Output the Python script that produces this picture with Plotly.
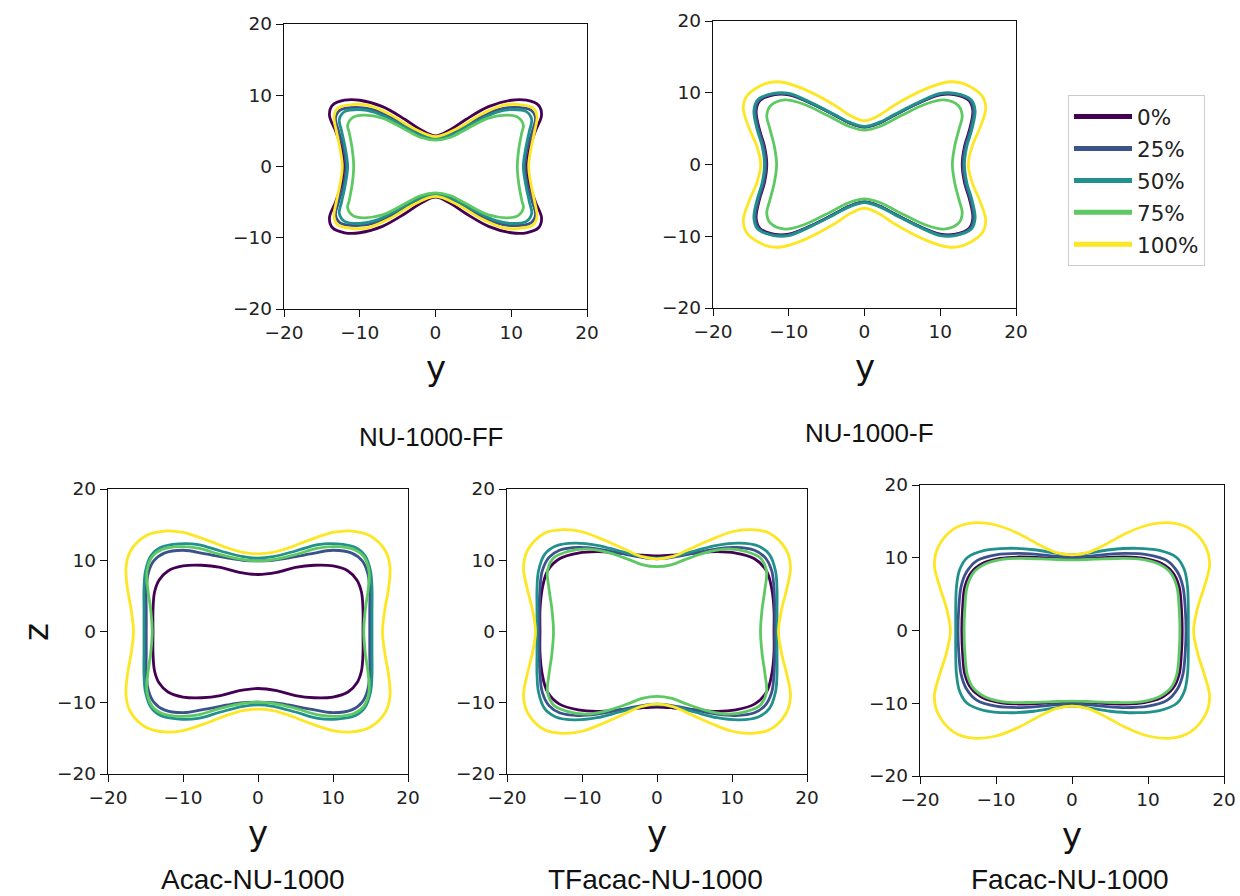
import plotly.graph_objects as go

W, H = 1240, 896

LOADINGS = ["0%", "25%", "50%", "75%", "100%"]
COLORS = ["#440154", "#3b528b", "#21918c", "#5ec962", "#fde725"]
PANEL_NAMES = ["NU-1000-FF", "NU-1000-F", "Acac-NU-1000", "TFacac-NU-1000", "Facac-NU-1000"]
TICKS = [-20, -10, 0, 10, 20]
AXIS_RANGE = [-20, 20]

# One quadrant of each outline as (y, z) pairs, running from the y-axis
# crossing (z = 0) round to the z-axis crossing (y = 0).
FF_0 = [(12.1, 0), (12.4, 2.5), (13.2, 5.0), (14.0, 7.2), (13.6, 8.6), (12.0, 9.3), (10.0, 9.3), (7.0, 8.4), (4.0, 6.6), (2.0, 5.2), (0, 4.3)]
FF_25 = [(11.8, 0), (12.1, 2.5), (12.8, 5.0), (13.2, 6.8), (12.6, 7.9), (10.5, 8.3), (8.0, 7.9), (5.0, 6.4), (2.0, 4.6), (0, 4.0)]
FF_50 = [(11.6, 0), (11.9, 2.5), (12.4, 5.0), (12.7, 6.6), (12.0, 7.7), (10.0, 8.0), (8.0, 7.6), (5.0, 6.1), (2.0, 4.4), (0, 3.9)]
FF_75 = [(10.8, 0), (11.0, 2.5), (11.4, 4.8), (11.6, 5.8), (10.9, 6.9), (9.5, 7.2), (7.0, 6.8), (4.0, 5.2), (2.0, 4.1), (0, 3.7)]
FF_100 = [(12.3, 0), (12.6, 2.5), (13.1, 5.0), (13.4, 7.0), (12.9, 8.2), (11.0, 8.7), (9.0, 8.6), (6.0, 7.3), (3.0, 5.4), (0, 4.2)]

F_0 = [(12.9, 0), (13.2, 2.5), (13.9, 5.0), (14.3, 7.5), (13.8, 8.9), (12.0, 9.7), (10.0, 9.7), (7.0, 8.5), (4.0, 6.9), (2.0, 5.8), (0, 5.2)]
F_25 = [(13.0, 0), (13.3, 2.5), (14.0, 5.0), (14.4, 7.5), (13.9, 9.0), (12.0, 9.8), (10.0, 9.8), (7.0, 8.5), (4.0, 6.9), (2.0, 5.8), (0, 5.2)]
F_50 = [(13.2, 0), (13.5, 2.5), (14.2, 5.0), (14.6, 7.5), (14.1, 9.0), (12.0, 9.9), (10.0, 9.9), (7.0, 8.6), (4.0, 7.0), (2.0, 5.9), (0, 5.3)]
F_75 = [(11.6, 0), (11.9, 2.5), (12.5, 5.0), (12.9, 6.8), (12.4, 8.2), (10.5, 9.0), (8.0, 8.4), (5.0, 6.9), (2.0, 5.3), (0, 4.8)]
F_100 = [(13.7, 0), (14.2, 2.5), (15.2, 5.0), (16.0, 7.8), (15.5, 9.6), (13.0, 11.3), (11.0, 11.5), (8.0, 10.5), (4.0, 8.3), (2.0, 6.9), (0, 6.1)]

ACAC_0 = [(14.0, 0), (14.0, 3.0), (13.8, 5.5), (13.2, 7.2), (12.0, 8.5), (10.0, 9.2), (7.5, 9.3), (5.0, 9.0), (2.5, 8.3), (0, 8.0)]
ACAC_25 = [(14.9, 0), (14.9, 3.0), (14.9, 6.0), (14.6, 8.3), (13.9, 9.9), (12.5, 11.0), (10.0, 11.4), (7.0, 10.9), (4.0, 10.3), (2.0, 10.0), (0, 9.9)]
ACAC_50 = [(15.2, 0), (15.2, 3.0), (15.2, 6.0), (15.0, 8.5), (14.3, 10.6), (13.0, 11.8), (10.5, 12.3), (8.0, 12.2), (5.0, 11.3), (2.0, 10.5), (0, 10.3)]
ACAC_75 = [(14.1, 0), (14.3, 3.0), (14.7, 6.0), (14.8, 8.5), (14.1, 10.5), (12.8, 11.5), (10.5, 11.9), (8.0, 11.7), (5.0, 10.8), (2.0, 10.1), (0, 9.9)]
ACAC_100 = [(16.6, 0), (16.9, 3.0), (17.4, 6.0), (17.6, 9.0), (17.0, 11.3), (15.0, 13.4), (12.5, 14.1), (10.0, 13.9), (7.0, 12.9), (4.0, 11.7), (2.0, 11.1), (0, 10.9)]

TFACAC_0 = [(15.6, 0), (15.6, 3.0), (15.3, 6.0), (14.6, 8.5), (13.0, 10.2), (10.5, 11.0), (8.0, 11.2), (5.0, 11.0), (2.0, 10.7), (0, 10.6)]
TFACAC_25 = [(15.7, 0), (15.7, 3.0), (15.6, 6.0), (15.3, 8.5), (14.4, 10.4), (13.0, 11.4), (10.5, 11.8), (8.0, 11.6), (5.0, 11.0), (2.0, 10.4), (0, 10.2)]
TFACAC_50 = [(16.0, 0), (16.0, 3.0), (16.0, 6.0), (15.8, 8.5), (15.0, 10.8), (13.5, 12.0), (11.0, 12.4), (8.0, 12.1), (5.0, 11.3), (2.0, 10.5), (0, 10.3)]
TFACAC_75 = [(13.8, 0), (14.0, 3.0), (14.4, 6.0), (14.6, 8.5), (13.8, 10.3), (12.0, 11.2), (9.5, 11.6), (7.0, 11.2), (4.0, 10.2), (2.0, 9.4), (0, 9.1)]
TFACAC_100 = [(16.2, 0), (16.6, 3.0), (17.3, 6.0), (17.8, 9.0), (17.2, 11.5), (15.0, 13.8), (12.5, 14.3), (10.0, 14.0), (7.0, 12.8), (4.0, 11.4), (2.0, 10.5), (0, 10.2)]

FACAC_0 = [(14.5, 0), (14.4, 3.0), (14.1, 6.0), (13.3, 7.9), (11.8, 9.2), (9.5, 9.9), (7.0, 10.1), (4.0, 10.0), (2.0, 9.9), (0, 9.9)]
FACAC_25 = [(15.0, 0), (14.9, 3.0), (14.6, 6.0), (13.9, 8.0), (12.5, 9.6), (10.0, 10.4), (7.0, 10.6), (4.0, 10.4), (2.0, 10.2), (0, 10.1)]
FACAC_50 = [(15.3, 0), (15.3, 3.0), (15.2, 6.0), (14.8, 8.3), (13.8, 10.0), (11.5, 11.0), (8.5, 11.3), (5.0, 11.1), (2.0, 10.6), (0, 10.4)]
FACAC_75 = [(14.2, 0), (14.1, 3.0), (13.8, 6.0), (13.0, 7.9), (11.5, 9.1), (9.0, 9.8), (6.0, 9.9), (3.0, 9.8), (0, 9.7)]
FACAC_100 = [(16.0, 0), (16.5, 3.0), (17.4, 6.0), (18.1, 9.0), (17.6, 11.5), (15.5, 14.0), (13.0, 14.8), (10.0, 14.5), (7.0, 13.3), (4.0, 11.6), (2.0, 10.7), (0, 10.4)]

PANEL_CURVES = [
    [FF_0, FF_25, FF_50, FF_75, FF_100],
    [F_0, F_25, F_50, F_75, F_100],
    [ACAC_0, ACAC_25, ACAC_50, ACAC_75, ACAC_100],
    [TFACAC_0, TFACAC_25, TFACAC_50, TFACAC_75, TFACAC_100],
    [FACAC_0, FACAC_25, FACAC_50, FACAC_75, FACAC_100],
]

# plot-area boxes in pixels: left, right, top, bottom
PANEL_BOXES = [
    (284, 587, 24, 309),
    (713, 1016, 21, 308),
    (108, 408, 489, 774),
    (507, 807, 489, 774),
    (920, 1224, 485, 776),
]
# title anchor points in pixels and their vertical anchoring
TITLE_POS = [(431, 437, "middle"), (869, 433, "middle"),
             (253, 896, "bottom"), (655, 896, "bottom"), (1070, 896, "bottom")]


def px_x(x):
    return x / W


def px_y(y):
    return 1 - y / H


def closed_outline(quadrant):
    """Mirror a first-quadrant outline into a full closed loop."""
    q = list(quadrant)
    q2 = [(-y, z) for y, z in reversed(q[:-1])]
    q3 = [(-y, -z) for y, z in q[1:]]
    q4 = [(y, -z) for y, z in reversed(q[:-1])]
    pts = q + q2 + q3 + q4
    return [p[0] for p in pts], [p[1] for p in pts]


fig = go.Figure()
layout = {}
annotations = []

for i, (curves, box) in enumerate(zip(PANEL_CURVES, PANEL_BOXES)):
    n = "" if i == 0 else str(i + 1)
    xa, ya = "x" + n, "y" + n
    for label, color, quad in zip(LOADINGS, COLORS, curves):
        ys, zs = closed_outline(quad)
        fig.add_trace(go.Scatter(
            x=ys, y=zs, xaxis=xa, yaxis=ya, mode="lines",
            line=dict(color=color, width=2.8, shape="spline", smoothing=1.0),
            name=label, showlegend=False, hoverinfo="skip",
        ))
    left, right, top, bottom = box
    axis_common = dict(
        range=AXIS_RANGE, tickmode="array", tickvals=TICKS,
        showgrid=False, zeroline=False, showline=True, mirror=True,
        linecolor="#111111", linewidth=1.4,
        ticks="outside", ticklen=7, tickwidth=1.4, tickcolor="#111111",
        tickfont=dict(family="DejaVu Sans", size=18.5, color="#222222"),
        fixedrange=True, automargin=False,
    )
    layout["xaxis" + n] = dict(axis_common, domain=[px_x(left), px_x(right)], anchor=ya)
    layout["yaxis" + n] = dict(axis_common, domain=[px_y(bottom), px_y(top)], anchor=xa)
    # axis label "y" under every panel
    label_y = bottom + 59
    annotations.append(dict(
        text="y", x=px_x((left + right) / 2), y=px_y(label_y), xref="paper", yref="paper",
        showarrow=False, xanchor="center", yanchor="middle",
        font=dict(family="DejaVu Sans", size=34, color="#111111"),
    ))
    tx, ty, tanchor = TITLE_POS[i]
    annotations.append(dict(
        text=PANEL_NAMES[i], x=px_x(tx), y=px_y(ty), xref="paper", yref="paper",
        showarrow=False, xanchor="center", yanchor=tanchor, borderpad=0,
        font=dict(family="Liberation Sans, Arial", size=26 if i < 2 else 28, color="#111111"),
    ))

# vertical axis label for the lower-left panel
annotations.append(dict(
    text="z", x=px_x(36), y=px_y(632), xref="paper", yref="paper",
    showarrow=False, xanchor="center", yanchor="middle", textangle=-90,
    font=dict(family="DejaVu Sans", size=34, color="#111111"),
))

# legend entries, one per loading
for label, color in zip(LOADINGS, COLORS):
    fig.add_trace(go.Scatter(
        x=[None], y=[None], mode="lines", name=label, legendgroup=label,
        line=dict(color=color, width=5), showlegend=True,
    ))

fig.update_layout(
    **layout,
    annotations=annotations,
    width=W, height=H,
    margin=dict(l=0, r=0, t=0, b=0, autoexpand=False),
    paper_bgcolor="white", plot_bgcolor="white",
    showlegend=True,
    legend=dict(
        x=px_x(1068), y=px_y(95), xanchor="left", yanchor="top",
        bgcolor="white", bordercolor="#cccccc", borderwidth=1,
        font=dict(family="DejaVu Sans", size=21.5, color="#222222"),
        tracegroupgap=1, itemwidth=58,
    ),
)

fig.write_html("out.html")
